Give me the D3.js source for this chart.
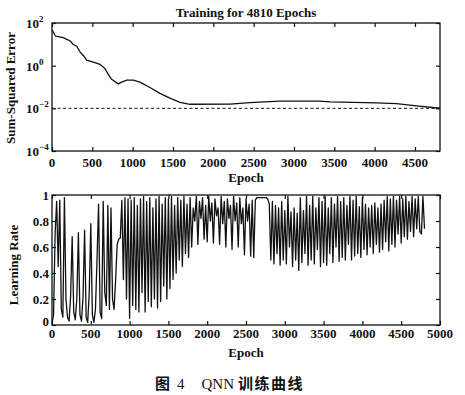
<!DOCTYPE html>
<html>
<head>
<meta charset="utf-8">
<script src="https://cdn.jsdelivr.net/npm/d3@7"></script>
<style>
  body { margin: 0; background: #fff; }
  text { font-family: "Liberation Serif", "Times New Roman", serif; fill: #111; }
</style>
</head>
<body>
<svg id="chart" width="465" height="395"></svg>
<script>
// --- top panel: sum-squared error (log scale) ---
const sseEpoch = [0, 21, 41, 78, 140, 182, 223, 264, 306, 347, 388, 430, 512, 595, 657, 698, 739, 822, 864, 925,
  1008, 1090, 1214, 1338, 1462, 1586, 1710, 2206, 2454, 2825, 3321, 3445, 4023, 4271, 4519, 4810];
const sseValue = [46.8, 35.5, 24.5, 22.9, 20.4, 17.0, 14.8, 9.8, 8.1, 4.4, 3.0, 1.8, 1.45, 1.15, 0.72, 0.39, 0.23, 0.14, 0.17, 0.21,
  0.21, 0.17, 0.095, 0.05, 0.03, 0.019, 0.0155, 0.0158, 0.0186, 0.022, 0.022, 0.02, 0.018, 0.0166, 0.0129, 0.0101];
const sseGoal = 0.01;
const sseTicksX = [0, 500, 1000, 1500, 2000, 2500, 3000, 3500, 4000, 4500];
const sseTicksY = [1e-4, 1e-2, 1, 1e2];
const sseTickExp = ["\u22124", "\u22122", "0", "2"];

// --- bottom panel: learning rate, one value every 20 epochs ---
const lrStep = 20;
const lrValue = [
  0.01, 0.08, 0.7, 0.95, 0.45, 0.96, 0.12, 0.06, 0.98, 0.2,
  0.06, 0.03, 0.22, 0.68, 0.1, 0.04, 0.2, 0.71, 0.08, 0.03,
  0.22, 0.73, 0.06, 0.02, 0.25, 0.78, 0.08, 0.02, 0.12, 0.5,
  0.93, 0.1, 0.05, 0.95, 0.25, 0.15, 0.92, 0.12, 0.9, 0.2,
  0.12, 0.35, 0.62, 0.66, 0.67, 0.96, 0.35, 0.98, 0.2, 0.97,
  0.05, 0.96, 0.15, 0.98, 0.12, 0.92, 0.1, 0.97, 0.25, 0.99,
  0.1, 0.95, 0.18, 0.98, 0.14, 0.9, 0.2, 0.97, 0.13, 0.99,
  0.18, 0.93, 0.3, 0.98, 0.2, 0.97, 0.28, 0.99, 0.35, 0.92,
  0.4, 0.98, 0.5, 0.96, 0.45, 0.99, 0.55, 0.93, 0.52, 0.98,
  0.6, 0.9, 0.8, 0.99, 0.62, 0.95, 0.82, 0.98, 0.66, 0.92,
  0.64, 0.99, 0.8, 0.94, 0.63, 0.97, 0.84, 0.9, 0.62, 0.99,
  0.78, 0.95, 0.6, 0.97, 0.82, 0.92, 0.58, 0.99, 0.8, 0.94,
  0.6, 0.98, 0.78, 0.9, 0.54, 0.97, 0.8, 0.93, 0.53, 0.96,
  0.52, 0.96, 0.98, 0.98, 0.98, 0.98, 0.98, 0.98, 0.98, 0.97,
  0.93, 0.5, 0.95, 0.47, 0.92, 0.55, 0.9, 0.46, 0.95, 0.5,
  0.88, 0.47, 0.99, 0.6, 0.87, 0.45, 0.9, 0.5, 0.86, 0.42,
  0.98, 0.48, 0.88, 0.55, 0.99, 0.46, 0.92, 0.5, 0.99, 0.47,
  0.9, 0.58, 0.98, 0.45, 0.95, 0.48, 0.99, 0.46, 0.9, 0.55,
  0.98, 0.48, 0.93, 0.6, 0.99, 0.49, 0.95, 0.52, 0.98, 0.5,
  0.92, 0.62, 0.99, 0.5, 0.96, 0.53, 0.99, 0.55, 0.91, 0.52,
  0.98, 0.58, 0.93, 0.54, 0.9, 0.6, 0.92, 0.55, 0.94, 0.62,
  0.9, 0.56, 0.93, 0.58, 0.96, 0.64, 0.99, 0.57, 0.97, 0.62,
  0.99, 0.6, 0.96, 0.7, 0.99, 0.63, 0.97, 0.68, 0.99, 0.66,
  0.95, 0.72, 0.99, 0.68, 0.97, 0.74, 0.99, 0.72, 0.7, 0.99,
  0.74
];
const lrTicksX = [0, 500, 1000, 1500, 2000, 2500, 3000, 3500, 4000, 4500, 5000];
const lrTicksY = [0, 0.2, 0.4, 0.6, 0.8, 1];

const svg = d3.select('#chart');
const left = 52, right = 440;

// frame + inward ticks on all four sides, matlab style
const drawFrame = (x, y, ticksX, ticksY) => {
  const [y0, y1] = y.range();
  svg.append('g').attr('transform', `translate(0,${y0})`)
    .call(d3.axisBottom(x).tickValues(ticksX).tickSize(-4).tickFormat(''));
  svg.append('g').attr('transform', `translate(0,${y1})`)
    .call(d3.axisTop(x).tickValues(ticksX).tickSize(-4).tickFormat(''));
  svg.append('g').attr('transform', `translate(${left},0)`)
    .call(d3.axisLeft(y).tickValues(ticksY).tickSize(-4).tickFormat(''));
  svg.append('g').attr('transform', `translate(${right},0)`)
    .call(d3.axisRight(y).tickValues(ticksY).tickSize(-4).tickFormat(''));
  svg.selectAll('.domain').remove();
  svg.selectAll('.tick line').attr('stroke', '#111').attr('stroke-width', 1.2);
  svg.append('rect')
    .attr('x', left).attr('y', y1)
    .attr('width', right - left).attr('height', y0 - y1)
    .attr('fill', 'none').attr('stroke', '#111').attr('stroke-width', 1.3);
};

// ---------- top ----------
const x1 = d3.scaleLinear().domain([0, 4810]).range([left, right]);
const y1 = d3.scaleLog().domain([1e-4, 1e2]).range([151, 23]);

svg.append('line')
  .attr('x1', x1(0)).attr('x2', x1(4810))
  .attr('y1', y1(sseGoal)).attr('y2', y1(sseGoal))
  .attr('stroke', '#111').attr('stroke-width', 1).attr('stroke-dasharray', '3,2.5');

svg.append('path')
  .datum(sseEpoch.map((e, i) => [e, sseValue[i]]))
  .attr('fill', 'none').attr('stroke', '#111').attr('stroke-width', 1.3)
  .attr('d', d3.line().x(d => x1(d[0])).y(d => y1(d[1])));

drawFrame(x1, y1, sseTicksX, sseTicksY);

svg.append('g').selectAll('text').data(sseTicksX).join('text')
  .attr('x', d => x1(d)).attr('y', 167)
  .attr('text-anchor', 'middle').attr('font-size', 13).attr('font-weight', 'bold')
  .text(d => d);

// "10" with a raised exponent
const yl = svg.append('g').selectAll('text').data(sseTicksY).join('text')
  .attr('x', 26).attr('y', d => y1(d) + 5)
  .attr('font-size', 13).attr('font-weight', 'bold')
  .text('10');
yl.append('tspan').attr('dy', -6).attr('font-size', 9).text((d, i) => sseTickExp[i]);

svg.append('text').attr('x', 246).attr('y', 17)
  .attr('text-anchor', 'middle').attr('font-size', 13).attr('font-weight', 'bold')
  .text('Training for 4810 Epochs');
svg.append('text').attr('transform', 'translate(15,88) rotate(-90)')
  .attr('text-anchor', 'middle').attr('font-size', 13).attr('font-weight', 'bold')
  .text('Sum-Squared Error');
svg.append('text').attr('x', 246).attr('y', 182)
  .attr('text-anchor', 'middle').attr('font-size', 13).attr('font-weight', 'bold')
  .text('Epoch');

// ---------- bottom ----------
const x2 = d3.scaleLinear().domain([0, 5000]).range([left, right]);
const y2 = d3.scaleLinear().domain([0, 1]).range([325, 195]);

svg.append('path')
  .datum(lrValue)
  .attr('fill', 'none').attr('stroke', '#111').attr('stroke-width', 1.3)
  .attr('stroke-linejoin', 'round')
  .attr('d', d3.line().x((d, i) => x2(i * lrStep)).y(d => y2(d)));

drawFrame(x2, y2, lrTicksX, lrTicksY);

svg.append('g').selectAll('text').data(lrTicksX).join('text')
  .attr('x', d => x2(d)).attr('y', 338)
  .attr('text-anchor', 'middle').attr('font-size', 13).attr('font-weight', 'bold')
  .text(d => d);
svg.append('g').selectAll('text').data(lrTicksY).join('text')
  .attr('x', 49).attr('y', d => d === 0 ? y2(d) + 1 : y2(d) + 5)
  .attr('text-anchor', 'end').attr('font-size', 13).attr('font-weight', 'bold')
  .text(d => d);

svg.append('text').attr('transform', 'translate(18,265) rotate(-90)')
  .attr('text-anchor', 'middle').attr('font-size', 13).attr('font-weight', 'bold')
  .text('Learning Rate');
svg.append('text').attr('x', 246).attr('y', 357)
  .attr('text-anchor', 'middle').attr('font-size', 13).attr('font-weight', 'bold')
  .text('Epoch');

// caption
const cap = svg.append('text').attr('x', 155).attr('y', 389).attr('font-size', 15);
cap.append('tspan').attr('font-family', '"Noto Sans CJK SC"').attr('font-weight', 'bold').text('图');
cap.append('tspan').attr('dx', 7).text('4');
cap.append('tspan').attr('dx', 17).text('QNN');
cap.append('tspan').attr('dx', 4).attr('font-family', '"Noto Sans CJK SC"').attr('font-weight', 'bold')
  .attr('letter-spacing', 1.5).text('训练曲线');
</script>
</body>
</html>
